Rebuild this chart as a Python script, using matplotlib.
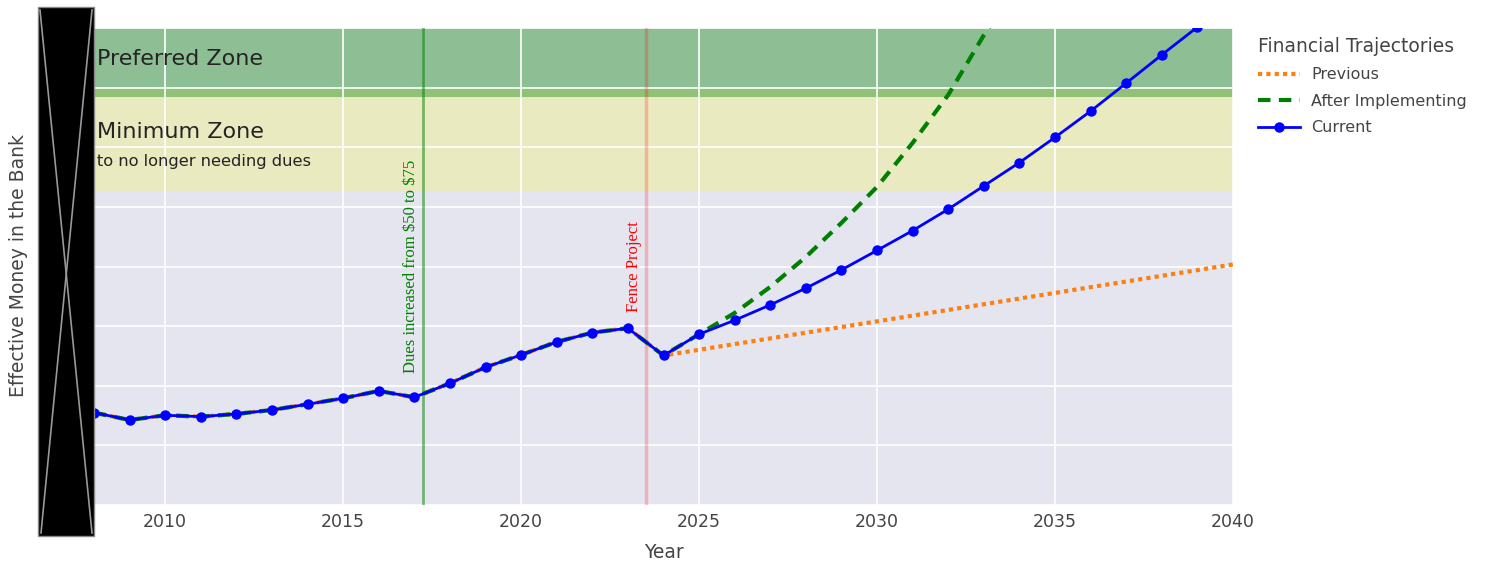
import matplotlib.pyplot as plt
from matplotlib.patches import Rectangle
from matplotlib.lines import Line2D

plt.rcParams['font.family'] = ['DejaVu Sans']

# history shared by every trajectory (2008-2024)
hist_years = list(range(2008, 2025))
hist_money = [15490, 14260, 15050, 14820, 15270, 15940, 16900, 17900, 19130,
              18070, 20420, 23100, 25170, 27350, 28910, 29650, 25080]

# projections starting at 2025
proj_years = list(range(2025, 2041))
previous_proj = [26030, 26990, 27940, 28900, 29850, 30800, 31760, 32710,
                 33670, 34620, 35570, 36530, 37480, 38440, 39390, 40350]
after_proj = [28640, 32210, 36580, 41610, 47320, 53360, 60740, 68790,
              78800, 88000, 98000, 109000, 121000, 134000, 148000, 163000]
current_proj = [28640, 30990, 33560, 36360, 39430, 42700, 46020, 49610,
                53520, 57430, 61660, 66060, 70750, 75500, 80150, 84900]

years = hist_years + proj_years
previous = hist_money + previous_proj
after_impl = hist_money + after_proj
current = hist_money + current_proj

# zones (money levels)
min_zone = (52500, 70000)
pref_zone = (68500, 120000)

# events
dues_year = 2017.25
fence_year = 2023.5

fig = plt.figure(figsize=(14.87, 5.62), dpi=100)
ax = fig.add_axes([94/1487, 1-505/562, 1139/1487, 477/562])
ax.set_facecolor('#e5e5f0')

# 1 zones
ax.axhspan(*min_zone, color='yellow', alpha=0.2, lw=0, zorder=0.1)
ax.axhspan(*pref_zone, color='green', alpha=0.38, lw=0, zorder=0.2)
ax.text(2008.08, 74830, 'Preferred Zone', fontsize=16, color='#242424',
        ha='left', va='center')
ax.text(2008.08, 62580, 'Minimum Zone', fontsize=16, color='#242424',
        ha='left', va='center')
ax.text(2008.08, 57550, 'to no longer needing dues', fontsize=11.7,
        color='#242424', ha='left', va='center')

# 2 events
ax.axvline(dues_year, color='green', alpha=0.5, lw=2, zorder=1)
ax.axvline(fence_year, color='red', alpha=0.22, lw=2.5, zorder=1)
ax.text(2017.14, 22200, r'Dues increased from \$50 to \$75', rotation=90,
        color='green', fontsize=12, family='Liberation Serif',
        ha='right', va='bottom')
ax.text(2023.39, 32430, 'Fence Project', rotation=90, color='red',
        fontsize=12, family='Liberation Serif', ha='right', va='bottom')

# 3 trajectories
ax.plot(years, previous, color='#ff7f0e', lw=3, dashes=(1, 1),
        label='Previous', zorder=2)
ax.plot(years, after_impl, color='green', lw=3, dashes=(3, 2),
        label='After Implementing', zorder=3)
ax.plot(years, current, color='blue', lw=2, marker='o', markersize=6.5,
        label='Current', zorder=4)

# 4 axes
ax.set_xlim(2008, 2040)
ax.set_ylim(0, 80000)
ax.set_xticks(range(2010, 2041, 5))
ax.set_yticks(range(0, 80001, 10000))
ax.set_axisbelow(True)
ax.grid(color='white', lw=1.2)
for s in ax.spines.values():
    s.set_visible(False)
ax.tick_params(length=0, pad=6, labelsize=12.5, labelcolor='#444444',
               labelleft=False)
ax.set_xlabel('Year', fontsize=13.5, color='#444444')
ax.xaxis.set_label_coords(0.5, -0.079)
ax.xaxis.label.set_va('top')
fig.text(19/1487, 1-266/562, 'Effective Money in the Bank', rotation=90,
         fontsize=13.5, color='#444444', ha='center', va='center')

# 5 legend
leg = ax.legend(title='Financial Trajectories', loc='upper left',
                bbox_to_anchor=(1.0165, 0.995), frameon=False, fontsize=11.5,
                title_fontsize=13.5, handlelength=2.6, handletextpad=0.7,
                labelspacing=0.72, alignment='left', borderaxespad=0)
for t in leg.get_texts():
    t.set_color('#444444')
leg.get_title().set_color('#444444')

# 6 black box over the y tick labels
box = Rectangle((38/1487, 1-536/562), 56/1487, 529/562,
                transform=fig.transFigure, facecolor='black',
                edgecolor='#888888', lw=1, zorder=5)
fig.add_artist(box)
fig.add_artist(Line2D([40/1487, 92/1487], [1-10/562, 1-533/562],
                      transform=fig.transFigure, color='#999999', lw=1.2,
                      zorder=6))
fig.add_artist(Line2D([92/1487, 41/1487], [1-10/562, 1-533/562],
                      transform=fig.transFigure, color='#999999', lw=1.2,
                      zorder=6))

fig.savefig('out.png', dpi=100)
